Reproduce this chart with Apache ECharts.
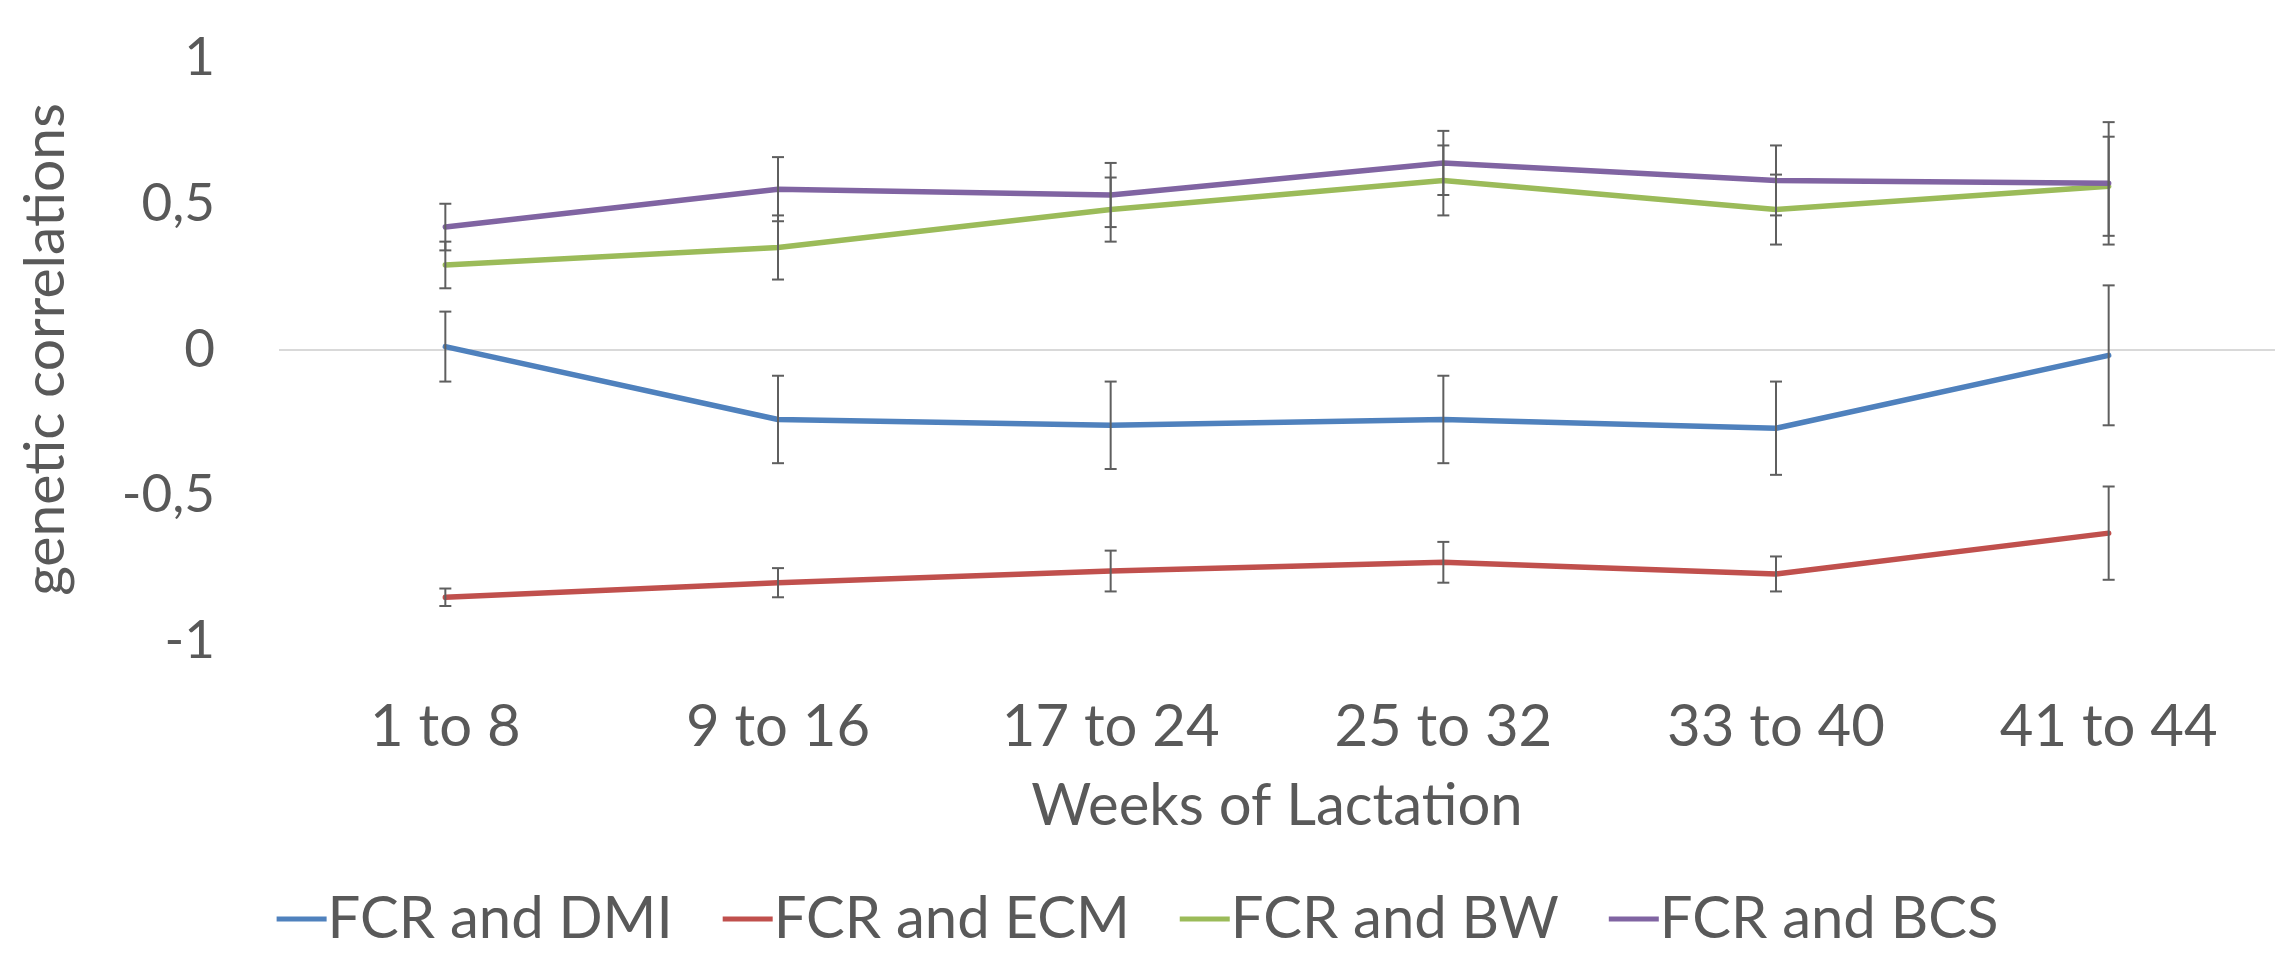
<!DOCTYPE html>
<html>
<head>
<meta charset="utf-8">
<script src="https://cdn.jsdelivr.net/npm/echarts@6/dist/echarts.min.js"></script>
<style>
  html, body { margin: 0; padding: 0; background: #fff; }
  #chart { width: 2275px; height: 955px; }
</style>
</head>
<body>
<div id="chart"></div>
<script>
// Weeks-of-lactation periods
const categories = ['1 to 8', '9 to 16', '17 to 24', '25 to 32', '33 to 40', '41 to 44'];

// Genetic correlations and their standard errors
const dmiValues = [0.01, -0.24, -0.26, -0.24, -0.27, -0.02];
const dmiErrors = [0.12, 0.15, 0.15, 0.15, 0.16, 0.24];
const ecmValues = [-0.85, -0.80, -0.76, -0.73, -0.77, -0.63];
const ecmErrors = [0.03, 0.05, 0.07, 0.07, 0.06, 0.16];
const bwValues = [0.29, 0.35, 0.48, 0.58, 0.48, 0.56];
const bwErrors = [0.08, 0.11, 0.11, 0.12, 0.12, 0.17];
const bcsValues = [0.42, 0.55, 0.53, 0.64, 0.58, 0.57];
const bcsErrors = [0.08, 0.11, 0.11, 0.11, 0.12, 0.21];

// Y-axis ticks
const yTicks = [-1, -0.5, 0, 0.5, 1];

const seriesDefs = [
  { name: 'FCR and DMI', values: dmiValues, errors: dmiErrors, color: '#4F81BD' },
  { name: 'FCR and ECM', values: ecmValues, errors: ecmErrors, color: '#C0504D' },
  { name: 'FCR and BW',  values: bwValues,  errors: bwErrors,  color: '#9BBB59' },
  { name: 'FCR and BCS', values: bcsValues, errors: bcsErrors, color: '#8064A2' }
];

const FONT = 'Lato, "Open Sans", sans-serif';
const TEXT = '#595959';

function errorBarRenderer(params, api) {
  const x = api.value(0);
  const lo = api.coord([x, api.value(1)]);
  const hi = api.coord([x, api.value(2)]);
  const half = 6;
  const style = { stroke: '#5f5f5f', lineWidth: 2 };
  return {
    type: 'group',
    children: [
      { type: 'line', shape: { x1: lo[0], y1: lo[1], x2: hi[0], y2: hi[1] }, style },
      { type: 'line', shape: { x1: lo[0] - half, y1: lo[1], x2: lo[0] + half, y2: lo[1] }, style },
      { type: 'line', shape: { x1: hi[0] - half, y1: hi[1], x2: hi[0] + half, y2: hi[1] }, style }
    ]
  };
}

const series = [];
seriesDefs.forEach(function (d) {
  series.push({
    name: d.name,
    type: 'line',
    data: d.values,
    showSymbol: false,
    symbol: 'none',
    lineStyle: { color: d.color, width: 5.5, cap: 'round', join: 'round' },
    itemStyle: { color: d.color },
    z: 3
  });
  series.push({
    name: d.name + ' error',
    type: 'custom',
    renderItem: errorBarRenderer,
    encode: { x: 0, y: [1, 2] },
    data: d.values.map(function (v, i) {
      return [i, +(v - d.errors[i]).toFixed(3), +(v + d.errors[i]).toFixed(3)];
    }),
    silent: true,
    z: 4
  });
});

// Only the zero gridline is drawn
const splitColors = yTicks.map(function (t) { return t === 0 ? '#d9d9d9' : 'rgba(0,0,0,0)'; });

const chart = echarts.init(document.getElementById('chart'), null, { renderer: 'canvas' });
chart.setOption({
  backgroundColor: '#ffffff',
  animation: false,
  textStyle: { fontFamily: FONT },
  grid: { left: 279, right: 0, top: 58, bottom: 314, containLabel: false },
  legend: {
    data: seriesDefs.map(function (d) { return d.name; }),
    bottom: 2,
    left: 'center',
    icon: 'rect',
    itemWidth: 50,
    itemHeight: 5,
    itemGap: 50,
    textStyle: { fontSize: 58, color: TEXT, fontFamily: FONT, padding: [0, 0, 0, -4] }
  },
  xAxis: {
    type: 'category',
    data: categories,
    boundaryGap: true,
    name: 'Weeks of Lactation',
    nameLocation: 'middle',
    nameGap: 136,
    nameTextStyle: { fontSize: 58, color: TEXT, fontFamily: FONT },
    axisLine: { show: false },
    axisTick: { show: false },
    axisLabel: { fontSize: 58, color: TEXT, margin: 57, fontFamily: FONT },
    splitLine: { show: false }
  },
  yAxis: {
    type: 'value',
    min: -1,
    max: 1,
    interval: 0.5,
    name: 'genetic correlations',
    nameLocation: 'middle',
    nameGap: 205,
    nameTextStyle: { fontSize: 57, color: TEXT, fontFamily: FONT },
    axisLine: { show: false },
    axisTick: { show: false },
    axisLabel: {
      fontSize: 53,
      color: TEXT,
      margin: 64,
      fontFamily: FONT,
      formatter: function (v) { return String(v).replace('.', ','); }
    },
    splitLine: { show: true, lineStyle: { color: splitColors, width: 2 } }
  },
  series: series
});
</script>
</body>
</html>
